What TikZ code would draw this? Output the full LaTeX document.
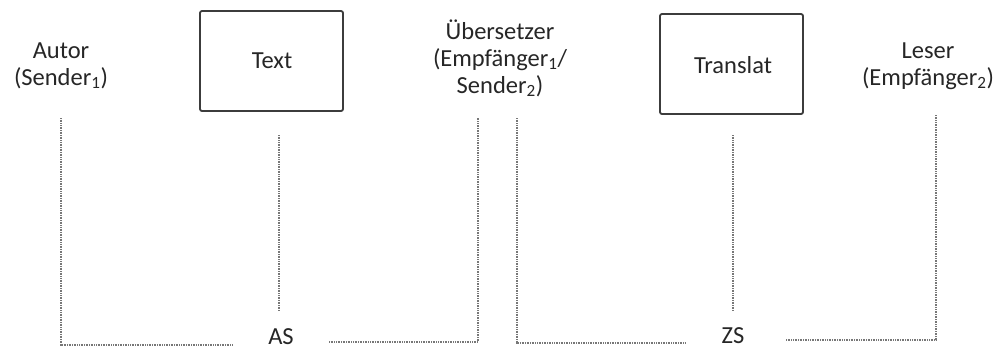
\documentclass[tikz,border=0pt]{standalone}
\usepackage{fontspec}
\setmainfont{Carlito}
\definecolor{ink}{HTML}{262626}
\definecolor{dotgray}{HTML}{777777}
\begin{document}
\begin{tikzpicture}[x=1pt,y=-1pt,
  lbl/.style={align=center,inner sep=0pt,text=ink,font=\fontsize{24.5}{27}\selectfont,anchor=base},
  boxn/.style={draw=ink!90,line width=1.8pt,rounded corners=2pt,minimum width=143pt,minimum height=100pt,inner sep=0pt},
  dotline/.style={draw=dotgray,line width=1.4pt,dash pattern=on 1pt off 0.7pt}]
\useasboundingbox (0,0) rectangle (1002,349);
% boxes
\node[boxn] (text) at (271.5,61) {};
\node[lbl] (textl) at (272,68) {Text};
\node[boxn] (transl) at (731.5,64) {};
\node[lbl] (translt) at (733,73) {Translat};
% labels (anchor at baseline of last line)
\node[lbl] (autor) at (61,85) {Autor\\(Sender\textsubscript{1})};
\node[lbl] (ueb) at (500,93) {Übersetzer\\(Empfänger\textsubscript{1}/\\Sender\textsubscript{2})};
\node[lbl] (leser) at (928,85) {Leser\\(Empfänger\textsubscript{2})};
\node[lbl] (as) at (281,344.5) {AS};
\node[lbl] (zs) at (733,343) {ZS};
% coordinates
\coordinate (a1) at (61,118);
\coordinate (a2) at (61,345);
\coordinate (a3) at (233,345);
\coordinate (b1) at (329,342);
\coordinate (b2) at (478,342);
\coordinate (b3) at (478,118);
\coordinate (t1) at (279,135);
\coordinate (t2) at (279,311);
\coordinate (c1) at (517,118);
\coordinate (c2) at (517,343);
\coordinate (c3) at (685,343);
\coordinate (d1) at (786,340);
\coordinate (d2) at (936,340);
\coordinate (d3) at (936,115);
\coordinate (r1) at (733,135);
\coordinate (r2) at (733,311);
% lines
\draw[dotline] (a1) -- (a2) -- (a3);
\draw[dotline] (b1) -- (b2) -- (b3);
\draw[dotline] (t1) -- (t2);
\draw[dotline] (c1) -- (c2) -- (c3);
\draw[dotline] (d1) -- (d2) -- (d3);
\draw[dotline] (r1) -- (r2);
\end{tikzpicture}
\end{document}
